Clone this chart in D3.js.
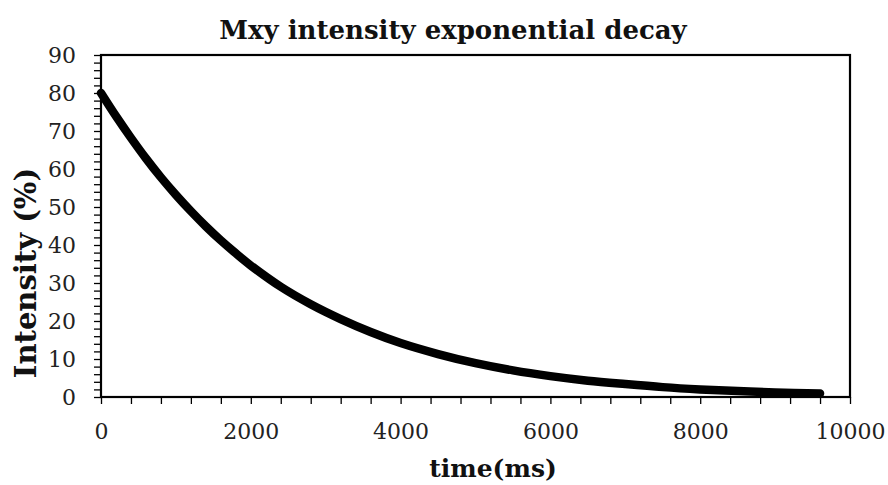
<!DOCTYPE html>
<html>
<head>
<meta charset="utf-8">
<script src="https://cdn.jsdelivr.net/npm/d3@7"></script>
<style>
  body { margin: 0; background: #fff; }
  svg { display: block; }
  .tick text { font-family: "DejaVu Serif", serif; font-size: 22px; fill: #222; }
  .label { font-family: "DejaVu Serif", serif; font-weight: bold; fill: #111; }
</style>
</head>
<body>
<svg></svg>
<script>
// time (ms)
const times = [0, 200, 400, 600, 800, 1000, 1200, 1400, 1600, 1800, 2000, 2400, 2800, 3200, 3600,
  4000, 4500, 5000, 5500, 6000, 6500, 7000, 7500, 8000, 8500, 9000, 9600];
// Mxy intensity (%)
const intensity = [80, 73.9, 68.2, 62.8, 57.8, 53.2, 48.9, 44.9, 41.2, 37.8, 34.6, 29.0, 24.4, 20.5, 17.1,
  14.2, 11.3, 8.9, 7.0, 5.5, 4.3, 3.4, 2.6, 2.0, 1.55, 1.2, 0.95];
const xTicks = [0, 2000, 4000, 6000, 8000, 10000];
const yTicks = [0, 10, 20, 30, 40, 50, 60, 70, 80, 90];

const data = times.map((t, i) => ({time: t, value: intensity[i]}));

const margin = {top: 55, right: 38, bottom: 88, left: 101},
      width = 888 - margin.left - margin.right,
      height = 485 - margin.top - margin.bottom;

const svg = d3.select("svg")
  .attr("width", 888)
  .attr("height", 485);

const g = svg.append("g")
  .attr("transform", "translate(" + margin.left + "," + margin.top + ")");

const x = d3.scaleLinear().domain([0, 10000]).range([0, width]);
const y = d3.scaleLinear().domain([0, 90]).range([height, 0]);

// minor ticks
g.append("g")
  .attr("transform", "translate(0," + height + ")")
  .call(d3.axisBottom(x).tickValues(d3.range(0, 10001, 400)).tickSize(7).tickFormat(""))
  .call(a => a.select(".domain").remove())
  .selectAll("line").attr("stroke", "#000").attr("stroke-width", 1.3);

g.append("g")
  .call(d3.axisLeft(y).tickValues(d3.range(0, 91, 2)).tickSize(7).tickFormat(""))
  .call(a => a.select(".domain").remove())
  .selectAll("line").attr("stroke", "#000").attr("stroke-width", 1.3);

// major tick labels
g.append("g")
  .attr("transform", "translate(0," + height + ")")
  .call(d3.axisBottom(x).tickValues(xTicks).tickSize(0).tickPadding(26).tickFormat(d3.format("d")))
  .call(a => a.select(".domain").remove());

g.append("g")
  .call(d3.axisLeft(y).tickValues(yTicks).tickSize(0).tickPadding(25))
  .call(a => a.select(".domain").remove());

// plot frame
g.append("rect")
  .attr("width", width)
  .attr("height", height)
  .attr("fill", "none")
  .attr("stroke", "#000")
  .attr("stroke-width", 2.2);

const line = d3.line()
  .x(d => x(d.time))
  .y(d => y(d.value))
  .curve(d3.curveCatmullRom.alpha(0.5));

g.append("path")
  .datum(data)
  .attr("fill", "none")
  .attr("stroke", "#000")
  .attr("stroke-width", 8.5)
  .attr("stroke-linecap", "round")
  .attr("stroke-linejoin", "round")
  .attr("d", line);

svg.append("text")
  .attr("class", "label")
  .attr("x", 453)
  .attr("y", 39)
  .attr("text-anchor", "middle")
  .style("font-size", "26px")
  .text("Mxy intensity exponential decay");

svg.append("text")
  .attr("class", "label")
  .attr("x", 493)
  .attr("y", 477)
  .attr("text-anchor", "middle")
  .style("font-size", "25px")
  .text("time(ms)");

svg.append("text")
  .attr("class", "label")
  .attr("transform", "translate(36,273) rotate(-90)")
  .attr("text-anchor", "middle")
  .style("font-size", "29px")
  .text("Intensity (%)");
</script>
</body>
</html>
